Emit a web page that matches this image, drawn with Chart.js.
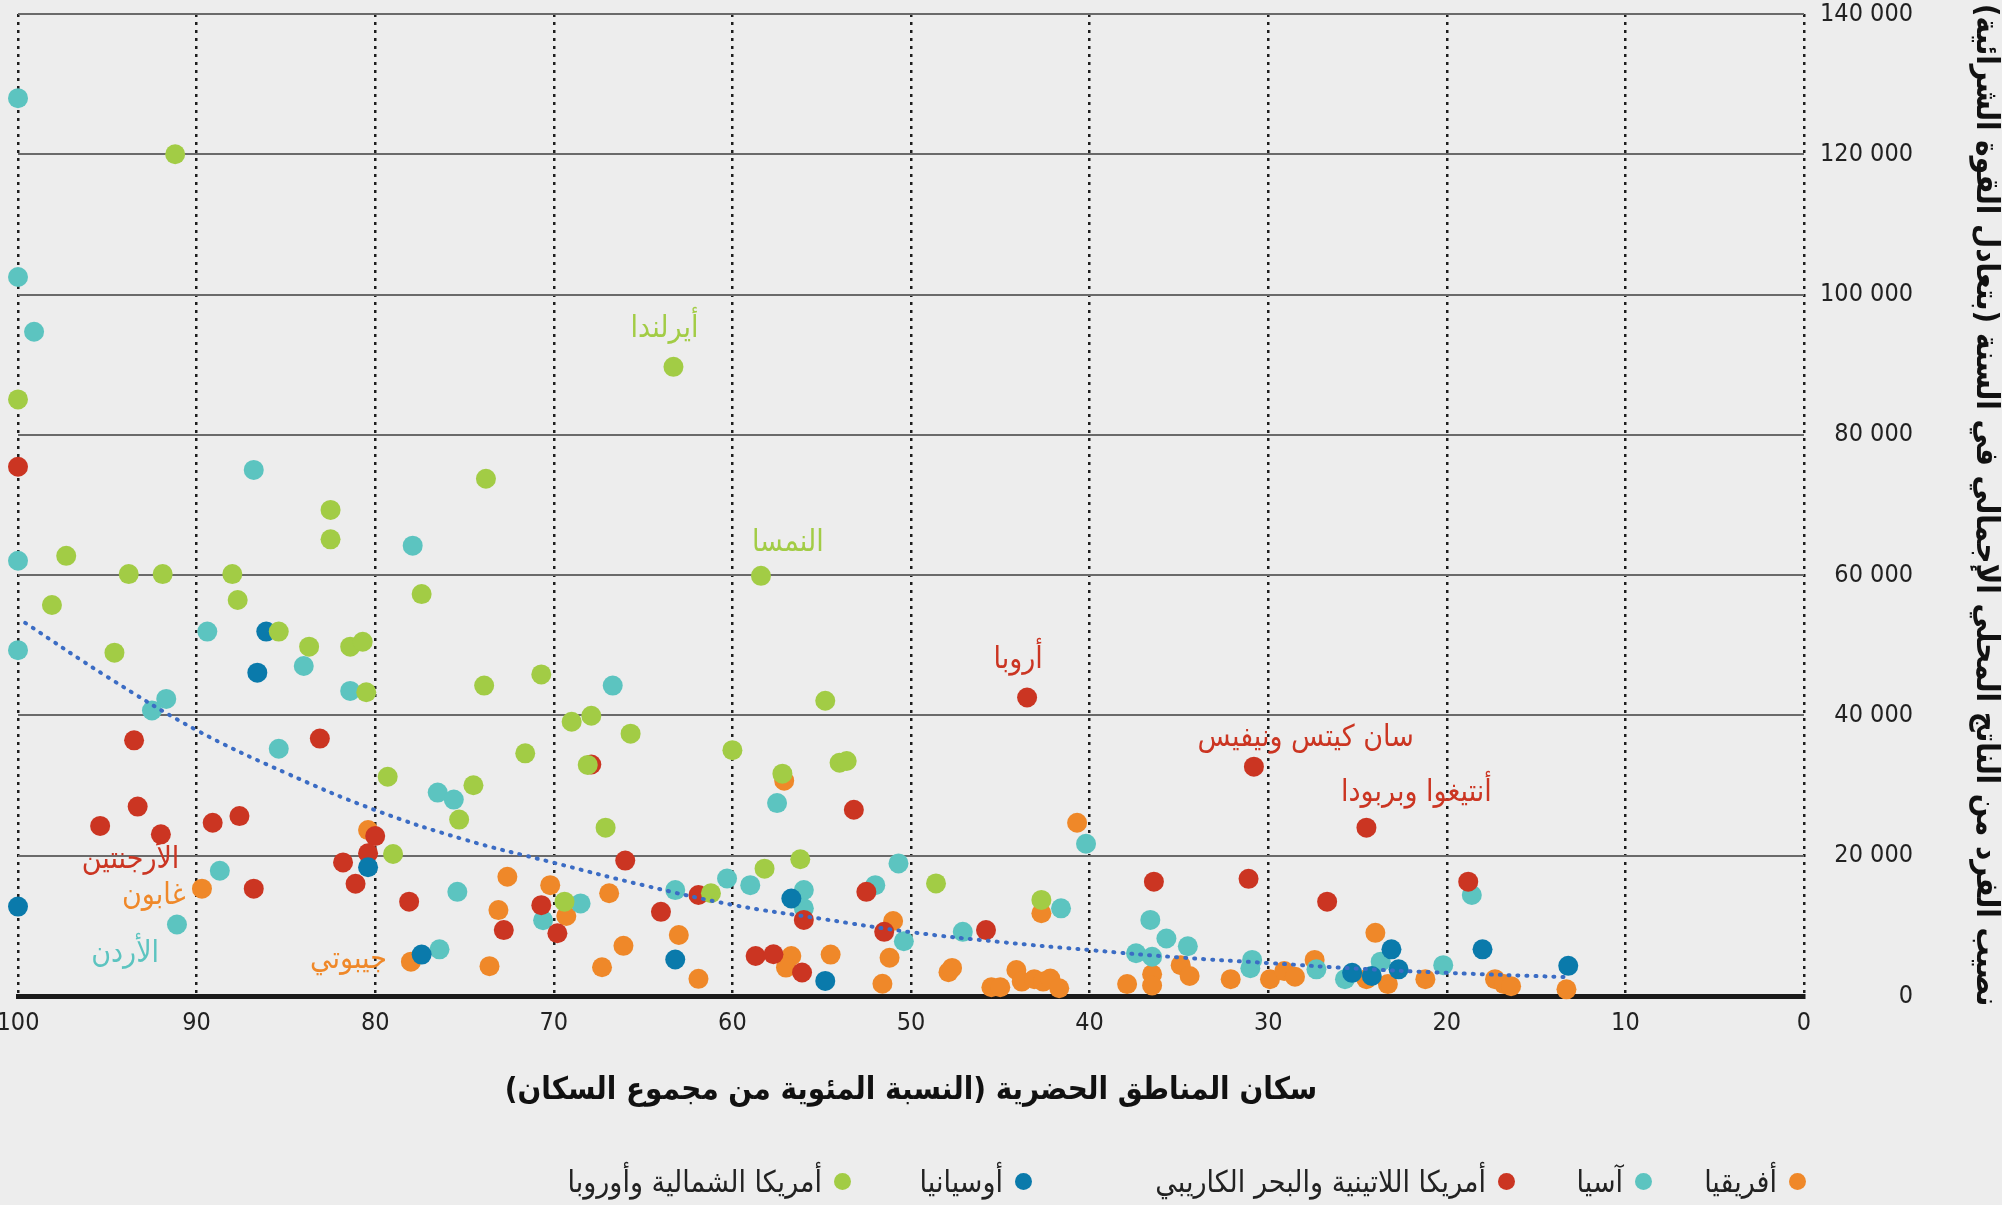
<!DOCTYPE html>
<html>
<head>
<meta charset="utf-8">
<script src="https://cdn.jsdelivr.net/npm/chart.js@4.4.1/dist/chart.umd.min.js"></script>
<style>
  html, body { margin: 0; padding: 0; background: #ededed; }
  #wrap { position: relative; width: 2002px; height: 1205px; }
  #legend { position: absolute; left: 0; top: 0; width: 2002px; height: 1205px; pointer-events: none; }
  .item { position: absolute; display: flex; align-items: center; direction: rtl; white-space: nowrap;
          font-family: 'DejaVu Sans Condensed', 'DejaVu Sans', sans-serif; font-size: 30px; color: #222; }
  .dot { width: 17px; height: 17px; border-radius: 50%; margin-left: 12px; }
</style>
</head>
<body>
<div id="wrap">
  <canvas id="chart"></canvas>
  <div id="legend"></div>
</div>
<script>
// series names (legend order, right to left)
var seriesNames = ['أفريقيا', 'آسيا', 'أمريكا اللاتينية والبحر الكاريبي', 'أوسيانيا', 'أمريكا الشمالية وأوروبا'];

// [urban population %, GDP per capita PPP]
var africa = [
  [89.7, 15300], [80.4, 23650], [78.0, 4900], [73.6, 4250], [72.6, 17000], [73.1, 12250],
  [70.2, 15800], [69.3, 11400], [66.9, 14650], [67.3, 4100], [66.1, 7150], [63.0, 8700],
  [61.9, 2450], [57.1, 30700], [56.7, 5700], [57.0, 4050], [54.5, 5900], [51.0, 10700],
  [51.2, 5450], [51.6, 1750], [47.9, 3400], [47.7, 4000], [45.5, 1250], [45.0, 1250],
  [44.1, 3700], [43.8, 2050], [43.1, 2400], [42.6, 2050], [42.2, 2500], [41.7, 1100],
  [42.7, 11800], [40.7, 24700], [37.9, 1700], [36.5, 3100], [36.5, 1500], [34.9, 4400],
  [34.4, 2850], [32.1, 2400], [29.9, 2400], [29.1, 3550], [28.5, 2750], [27.4, 5150],
  [24.0, 9000], [24.5, 2400], [23.3, 1700], [21.2, 2400], [17.3, 2400], [16.8, 1700],
  [16.4, 1400], [13.3, 950]
];
var asia = [
  [100, 128000], [100, 102500], [99.1, 94700], [86.8, 75000], [100, 62050], [77.9, 64200],
  [89.4, 51950], [100, 49300], [84.0, 47050], [81.4, 43500], [66.7, 44250], [91.7, 42350],
  [92.5, 40700], [85.4, 35250], [76.5, 29000], [75.6, 28000], [57.5, 27500], [88.7, 17850],
  [91.1, 10200], [75.4, 14850], [70.6, 10800], [68.5, 13200], [76.4, 6650], [63.2, 15100],
  [60.3, 16750], [59.0, 15800], [56.0, 15100], [56.0, 12500], [52.0, 15800], [50.7, 18900],
  [50.4, 7800], [47.1, 9150], [41.6, 12500], [40.2, 21700], [36.6, 10850], [35.7, 8200],
  [34.5, 7100], [37.4, 6100], [36.5, 5600], [30.9, 5150], [31.0, 3950], [27.3, 3800],
  [25.7, 2400], [23.7, 4900], [20.2, 4400], [18.6, 14400]
];
var latinAmerica = [
  [100, 75450], [93.5, 36450], [83.1, 36700], [93.3, 27000], [95.4, 24250], [92.0, 23050],
  [89.1, 24700], [87.6, 25650], [86.8, 15300], [80.0, 22800], [80.4, 20350], [81.8, 19050],
  [81.1, 16000], [78.1, 13450], [72.8, 9400], [70.7, 12950], [69.8, 8950], [67.9, 33000],
  [66.0, 19300], [64.0, 12000], [61.9, 14400], [56.0, 10850], [58.7, 5700], [57.7, 5950],
  [56.1, 3350], [53.2, 26550], [52.5, 14850], [51.5, 9150], [45.8, 9400], [43.5, 42550],
  [36.4, 16300], [31.1, 16700], [30.8, 32700], [26.7, 13450], [24.5, 24000], [18.8, 16300]
];
var oceania = [
  [86.1, 51950], [86.6, 46100], [80.4, 18350], [100, 12750], [77.4, 5900], [63.2, 5200],
  [56.7, 13900], [54.8, 2150], [25.3, 3300], [23.1, 6650], [24.2, 2850], [22.7, 3800],
  [18.0, 6650], [13.2, 4300]
];
var northAmericaEurope = [
  [91.2, 120000], [100, 85050], [63.3, 89700], [73.8, 73750], [82.5, 69300], [82.5, 65100],
  [97.3, 62750], [93.8, 60150], [91.9, 60150], [88.0, 60150], [58.4, 59900], [98.1, 55750],
  [87.7, 56450], [77.4, 57300], [85.4, 51950], [94.6, 48950], [83.7, 49800], [81.4, 49800],
  [80.7, 50500], [80.5, 43300], [73.9, 44250], [70.7, 45850], [54.8, 42100], [69.0, 39100],
  [67.9, 39950], [65.7, 37400], [71.6, 34600], [68.1, 32950], [60.0, 35050], [57.2, 31700],
  [54.0, 33250], [53.6, 33500], [79.3, 31250], [74.5, 30050], [75.3, 25150], [67.1, 24000],
  [79.0, 20250], [69.4, 13450], [61.2, 14650], [58.2, 18150], [56.2, 19500], [48.6, 16050],
  [42.7, 13700]
];

// trend curve
var trendX = [99.6, 95, 90, 85, 80, 75, 70, 65, 60, 55, 50, 45, 40, 35, 30, 25, 20, 13.4];
var trendY = [53200, 45500, 37900, 31800, 26500, 22300, 19000, 15800, 13000, 11000, 9100, 7700, 6550, 5500, 4700, 3900, 3300, 2700];

// country labels: [text, x, y, series index]
var countryNotes = [
  ['أيرلندا', 63.8, 95100, 4],
  ['النمسا', 56.9, 64600, 4],
  ['أروبا', 44.0, 47900, 2],
  ['سان كيتس ونيفيس', 27.9, 36800, 2],
  ['أنتيغوا وبربودا', 21.7, 28900, 2],
  ['الأرجنتين', 93.7, 19400, 2],
  ['غابون', 92.4, 14200, 0],
  ['الأردن', 94.0, 6000, 1],
  ['جيبوتي', 81.5, 5100, 0]
];

var xTitle = 'سكان المناطق الحضرية (النسبة المئوية من مجموع السكان)\u200F';
var yTitle = 'نصيب الفرد من الناتج المحلي الإجمالي في السنة (بتعادل القوة الشرائية)\u200F';

var colors = ['#ef8829', '#5cc4c0', '#cb3522', '#0a7aab', '#a2cc45'];
var drawOrder = [5, 4, 3, 2, 1];
var numFont = "'DejaVu Sans Condensed', 'DejaVu Sans', sans-serif";
var arFont = "'DejaVu Sans Condensed', 'DejaVu Sans', sans-serif";

function toPoints(list) {
  return list.map(function (p) { return { x: p[0], y: p[1] }; });
}

var seriesData = [africa, asia, latinAmerica, oceania, northAmericaEurope];
var datasets = seriesData.map(function (list, i) {
  return {
    label: seriesNames[i],
    data: toPoints(list),
    backgroundColor: colors[i],
    borderWidth: 0,
    pointRadius: 10,
    pointHoverRadius: 10,
    order: drawOrder[i],
    clip: false
  };
});
datasets.push({
  label: 'trend',
  data: trendX.map(function (x, i) { return { x: x, y: trendY[i] }; }),
  showLine: true,
  pointRadius: 0,
  borderColor: '#3b6cc4',
  borderWidth: 4,
  borderDash: [1, 8],
  borderCapStyle: 'round',
  tension: 0.4,
  fill: false,
  order: 0,
  clip: false
});

var notesPlugin = {
  id: 'notes',
  afterDatasetsDraw: function (chart) {
    var ctx = chart.ctx;
    var xs = chart.scales.x, ys = chart.scales.y;
    ctx.save();
    ctx.font = '30px ' + arFont;
    ctx.textAlign = 'center';
    ctx.textBaseline = 'middle';
    countryNotes.forEach(function (n) {
      ctx.fillStyle = colors[n[3]];
      ctx.fillText(n[0], xs.getPixelForValue(n[1]), ys.getPixelForValue(n[2]));
    });
    ctx.restore();
  }
};

var ctx = document.getElementById('chart').getContext('2d');
var chart = new Chart(ctx, {
  type: 'scatter',
  data: { datasets: datasets },
  plugins: [notesPlugin],
  options: {
    responsive: true,
    maintainAspectRatio: false,
    animation: false,
    layout: { padding: { left: 18, top: 14, right: 89, bottom: 85 } },
    plugins: {
      legend: { display: false },
      tooltip: { enabled: false }
    },
    scales: {
      x: {
        type: 'linear',
        position: 'bottom',
        reverse: true,
        min: 0,
        max: 100,
        afterFit: function (scale) {
          scale.height = 124;
          scale.paddingLeft = 0;
          scale.paddingRight = 0;
        },
        ticks: {
          stepSize: 10,
          padding: 15,
          color: '#222',
          font: { family: numFont, size: 25, lineHeight: 1 }
        },
        grid: { color: '#1e1e1e', lineWidth: 2.5, drawTicks: false },
        border: { display: true, color: '#1a1a1a', width: 5, dash: [3, 5] },
        title: {
          display: true,
          text: xTitle,
          color: '#111',
          font: { family: arFont, size: 31, weight: 'bold' },
          padding: { top: 0, bottom: 10 }
        }
      },
      y: {
        position: 'right',
        min: 0,
        max: 140000,
        afterFit: function (scale) {
          scale.width = 109;
          scale.paddingTop = 0;
          scale.paddingBottom = 0;
        },
        ticks: {
          stepSize: 20000,
          padding: 0,
          crossAlign: 'far',
          color: '#222',
          font: { family: numFont, size: 25, lineHeight: 1 },
          callback: function (v) { return String(v).replace(/\B(?=(\d{3})+(?!\d))/g, ' '); }
        },
        grid: {
          color: function (c) { return c.tick && c.tick.value === 0 ? 'rgba(0,0,0,0)' : '#6a6a6a'; },
          lineWidth: 2,
          drawTicks: false
        },
        border: { display: false },
        title: {
          display: true,
          text: yTitle,
          color: '#111',
          font: { family: arFont, size: 31, weight: 'bold' },
          padding: { top: -90.6, bottom: 0 }
        }
      }
    }
  }
});

// legend, right to left, dot on the right of each name
var legendDotRight = [1806, 1652, 1515, 1032, 851];
var legendBox = document.getElementById('legend');
seriesNames.forEach(function (name, i) {
  var item = document.createElement('div');
  item.className = 'item';
  item.style.right = (2002 - legendDotRight[i]) + 'px';
  item.style.top = (1181 - 20) + 'px';
  item.style.height = '40px';
  var dot = document.createElement('span');
  dot.className = 'dot';
  dot.style.background = colors[i];
  var text = document.createElement('span');
  text.textContent = name;
  item.appendChild(dot);
  item.appendChild(text);
  legendBox.appendChild(item);
});
</script>
</body>
</html>
